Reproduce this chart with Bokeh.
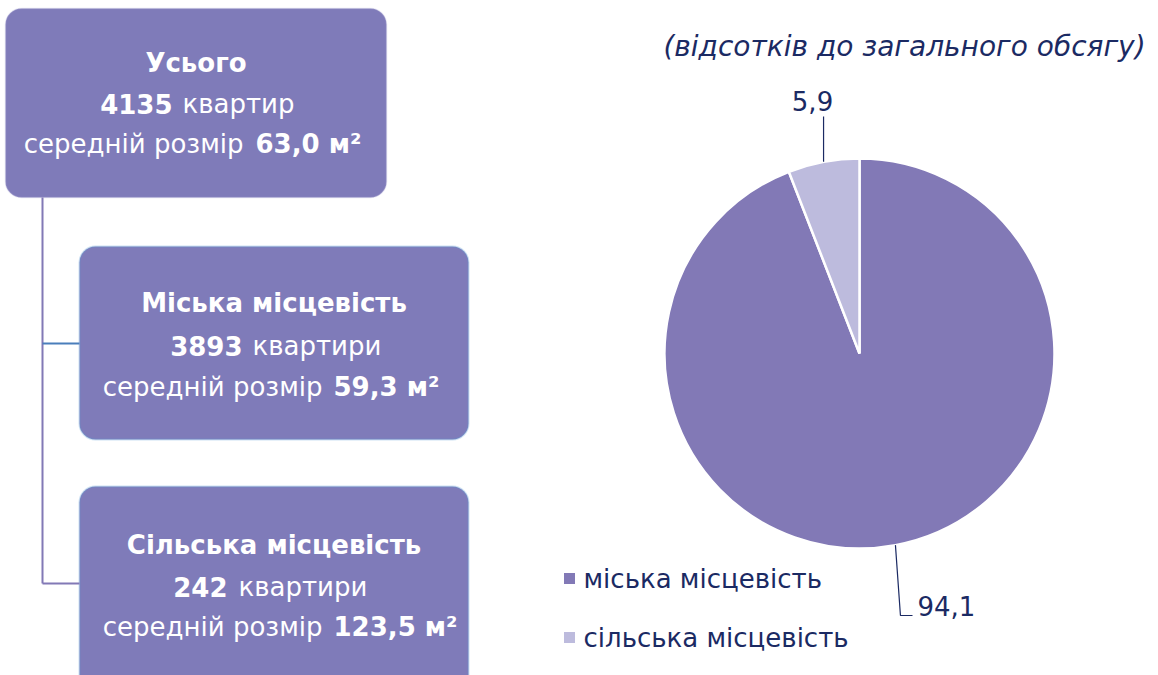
import math
from bokeh.plotting import figure
from bokeh.models import Range1d, BoxAnnotation
from bokeh.core.properties import value
from bokeh.embed import file_html
from bokeh.resources import INLINE

# ---------------- data ----------------
box_titles = ["Усього", "Міська місцевість", "Сільська місцевість"]
box_counts = [4135, 3893, 242]
box_units = ["квартир", "квартири", "квартири"]
box_avg_size = [63.0, 59.3, 123.5]
size_label = "середній розмір"
size_unit = "м²"

categories = ["міська місцевість", "сільська місцевість"]
shares = [94.1, 5.9]
pie_title = "(відсотків до загального обсягу)"

# ---------------- style ----------------
FONT = value("DejaVu Sans")
NAVY = "#1B2A63"
BOX_FILL = "#7F7BB9"
PIE_COLORS = ["#8279B6", "#BDBBDD"]

W, H = 1158, 675
p = figure(width=W, height=H, output_backend="svg", toolbar_location=None,
           x_range=Range1d(0, W), y_range=Range1d(0, H),
           min_border=0, outline_line_color=None)
p.axis.visible = False
p.grid.visible = False


def Y(ypix):
    # page pixel row -> data y
    return H - ypix


def fmt(v):
    return f"{v:.1f}".replace(".", ",")


# ---------------- left: boxes ----------------
boxes = [
    dict(l=5, r=386, t=8, b=197, line="#B7B3D9", lw=1.5,
         title_y=62, l2=(172, 182, 103), l3=(243, 255, 143)),
    dict(l=79, r=468, t=246, b=439, line="#5B9BD5", lw=2,
         title_y=302, l2=(242, 252, 345), l3=(322, 333, 386)),
    dict(l=79, r=468, t=486, b=700, line="#5B9BD5", lw=2,
         title_y=544, l2=(227, 238, 586), l3=(322, 333, 626)),
]

# connector lines
p.line(x=[42, 42], y=[Y(197), Y(583)], line_color="#8279B6", line_width=2)
p.line(x=[42, 79], y=[Y(343), Y(343)], line_color="#4A7EBB", line_width=2)
p.line(x=[42, 79], y=[Y(583), Y(583)], line_color="#8279B6", line_width=2)

for i, b in enumerate(boxes):
    p.add_layout(BoxAnnotation(left=b["l"], right=b["r"], top=Y(b["t"]), bottom=Y(b["b"]),
                               fill_color=BOX_FILL, fill_alpha=1.0,
                               line_color=b["line"], line_width=b["lw"],
                               border_radius=16, level="underlay"))
    cx = (b["l"] + b["r"]) / 2
    p.text(x=[cx], y=[Y(b["title_y"])], text=[box_titles[i]], text_font=FONT,
           text_font_size="26px", text_font_style="bold", text_color="white",
           text_align="center", text_baseline="middle")
    xr, xl, yl = b["l2"]
    p.text(x=[xr], y=[Y(yl)], text=[str(box_counts[i])], text_font=FONT,
           text_font_size="26px", text_font_style="bold", text_color="white",
           text_align="right", text_baseline="middle")
    p.text(x=[xl], y=[Y(yl)], text=[box_units[i]], text_font=FONT,
           text_font_size="26px", text_color="white",
           text_align="left", text_baseline="middle")
    xr, xl, yl = b["l3"]
    p.text(x=[xr], y=[Y(yl)], text=[size_label], text_font=FONT,
           text_font_size="26px", text_color="white",
           text_align="right", text_baseline="middle")
    p.text(x=[xl], y=[Y(yl)], text=[f"{fmt(box_avg_size[i])} {size_unit}"], text_font=FONT,
           text_font_size="26px", text_font_style="bold", text_color="white",
           text_align="left", text_baseline="middle")

# ---------------- right: pie ----------------
pcx, pcy, R = 859, Y(353), 195
total = sum(shares)
# rural slice starts at 12 o'clock and runs counter-clockwise, urban takes the rest
rural_start = math.pi / 2
rural_end = rural_start + 2 * math.pi * shares[1] / total
urban_start = rural_end
urban_end = rural_start + 2 * math.pi
starts = [urban_start, rural_start]
ends = [urban_end, rural_end]
p.wedge(x=[pcx, pcx], y=[pcy, pcy], radius=R, radius_units="screen",
        start_angle=starts, end_angle=ends, fill_color=PIE_COLORS,
        line_color="white", line_width=2.5)

# title
p.text(x=[904], y=[Y(46)], text=[pie_title], text_font=FONT, text_font_size="28px",
       text_font_style="italic", text_color=NAVY, text_align="center",
       text_baseline="middle")

# data labels with leader lines
mid_r = (rural_start + rural_end) / 2
ex, ey = pcx + R * math.cos(mid_r), pcy + R * math.sin(mid_r)
p.line(x=[ex, ex], y=[ey, Y(116)], line_color=NAVY, line_width=1.2)
p.text(x=[812], y=[Y(100)], text=[fmt(shares[1])], text_font=FONT,
       text_font_size="26px", text_color=NAVY, text_align="center",
       text_baseline="middle")

mid_u = (urban_start + urban_end) / 2
ex, ey = pcx + R * math.cos(mid_u), pcy + R * math.sin(mid_u)
p.line(x=[ex, ex + 5, 912], y=[ey, Y(615), Y(615)], line_color=NAVY, line_width=1.2)
p.text(x=[917], y=[Y(605)], text=[fmt(shares[0])], text_font=FONT,
       text_font_size="26px", text_color=NAVY, text_align="left",
       text_baseline="middle")

# legend
leg_y = [Y(578), Y(637)]
p.scatter(x=[569, 569], y=leg_y, marker="square", size=11, fill_color=PIE_COLORS,
          line_color=None)
p.text(x=[583, 583], y=leg_y, text=categories, text_font=FONT, text_font_size="26px",
       text_color=NAVY, text_align="left", text_baseline="middle")

open("out.html", "w").write(file_html(p, INLINE))
